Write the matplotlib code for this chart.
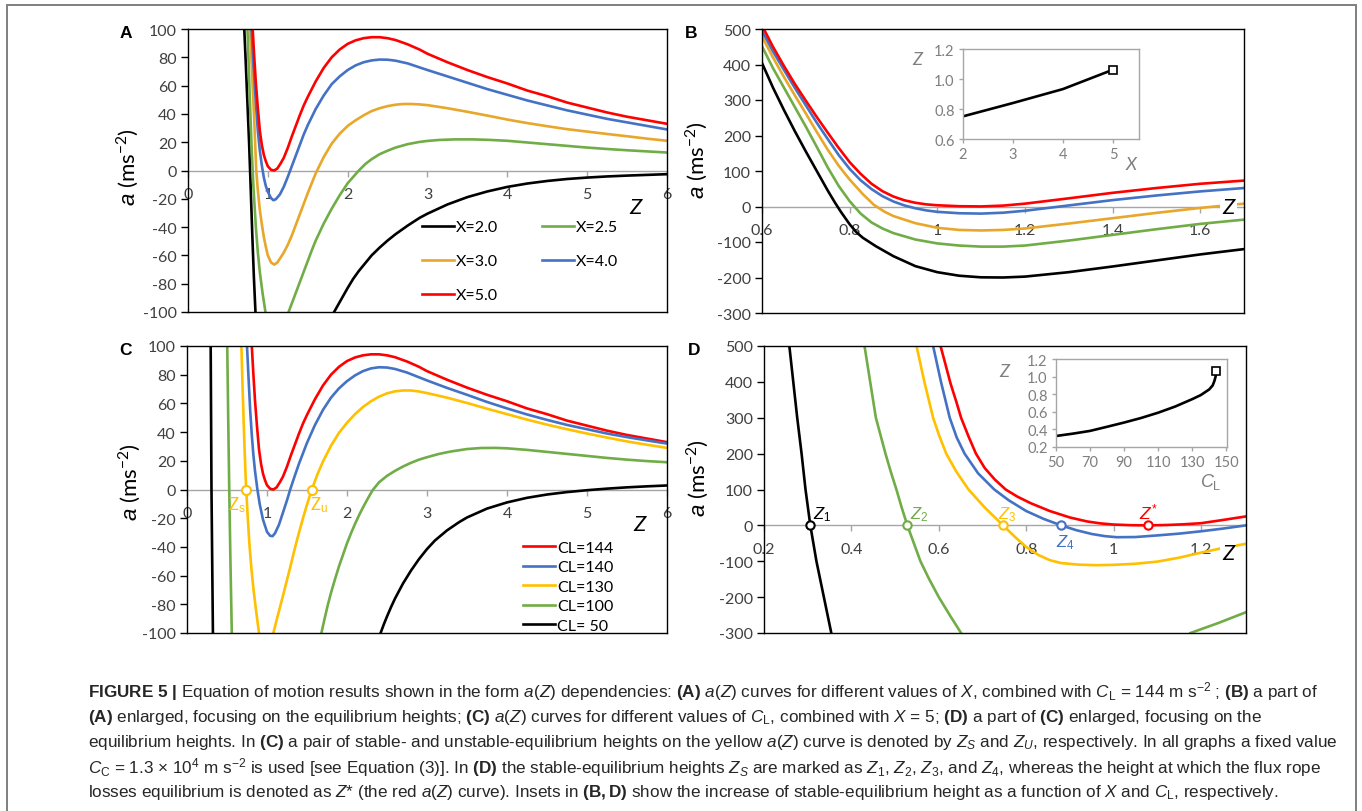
import numpy as np
import matplotlib
matplotlib.use("Agg")
import matplotlib.pyplot as plt
from matplotlib.patches import Rectangle

nan = np.nan

# ---------------- Panel A: a(Z) for several X, CL = 144 ----------------
A_x20_z = [0.705, 0.725, 0.745, 0.765, 0.785, 0.805, 0.825, 0.845, nan,
           1.83, 1.87, 1.93, 2.0, 2.07, 2.14, 2.22, 2.3, 2.4, 2.5, 2.6, 2.75, 2.9, 3.0,
           3.25, 3.5, 3.75, 4.0, 4.25, 4.5, 4.75, 5.0, 5.25, 5.5, 5.75, 6.0]
A_x20_a = [100, 74, 47, 20, -12, -45, -75, -100, nan,
           -100, -96, -90, -83, -76.5, -71, -65.5, -60, -54.5, -49.5, -45, -39, -33.5, -30.5,
           -24, -18.8, -14.8, -11.6, -9.2, -7.4, -6, -5, -4.2, -3.6, -3.1, -2.6]
A_x25_z = [0.745, 0.76, 0.78, 0.8, 0.82, 0.85, 0.875, 0.9, 0.935, 0.97, nan,
           1.26, 1.3, 1.35, 1.4, 1.45, 1.5, 1.55, 1.6, 1.7, 1.8, 1.9, 2.0, 2.07, 2.14, 2.22,
           2.3, 2.4, 2.5, 2.6, 2.75, 2.9, 3.0, 3.15, 3.35, 3.55, 3.75, 4.0, 4.25, 4.5, 4.75,
           5.0, 5.25, 5.5, 5.75, 6.0]
A_x25_a = [100, 75, 42, 12, -12, -40, -58, -72, -87, -100, nan,
           -100, -94, -86.5, -79, -71.5, -64, -56.5, -49.5, -37.5, -27, -17.5, -9, -4.5, 0, 4.5,
           8, 11.5, 14, 16.2, 18.6, 20.2, 20.9, 21.6, 22, 22, 21.7, 21, 19.8, 18.6, 17.4,
           16.2, 15.2, 14.3, 13.5, 12.7]
A_x30_z = [0.775, 0.79, 0.8, 0.815, 0.83, 0.845, 0.855, 0.875, 0.9, 0.925, 0.95, 0.975, 1.0,
           1.04, 1.08, 1.12, 1.16, 1.2, 1.25, 1.3, 1.35, 1.4, 1.5, 1.6, 1.7, 1.8, 1.9, 2.0,
           2.1, 2.2, 2.3, 2.4, 2.5, 2.6, 2.7, 2.8, 2.9, 3.0, 3.25, 3.5, 3.75, 4.0, 4.25, 4.5,
           4.75, 5.0, 5.25, 5.5, 5.75, 6.0]
A_x30_a = [100, 83, 72, 53, 35, 14, 0, -14, -28, -38, -47, -54, -60,
           -65, -66.5, -65, -61.5, -58, -52.5, -46, -38.5, -31, -16, -2, 9.5, 19, 26, 31.5,
           35.5, 39, 42, 44, 45.5, 46.5, 47, 47, 46.7, 46.2, 44, 41.5, 38.8, 36, 33.5, 31.3,
           29.2, 27.5, 25.8, 24.2, 22.5, 21]
A_x40_z = [0.795, 0.82, 0.85, 0.875, 0.9, 0.925, 0.95, 0.975, 1.0, 1.04, 1.07, 1.1, 1.15,
           1.2, 1.25, 1.3, 1.35, 1.4, 1.45, 1.5, 1.6, 1.7, 1.8, 1.9, 2.0, 2.1, 2.2, 2.3, 2.4,
           2.5, 2.6, 2.75, 3.0, 3.25, 3.5, 3.75, 4.0, 4.25, 4.5, 4.75, 5.0, 5.25, 5.5, 5.75, 6.0]
A_x40_a = [100, 75, 48, 28, 14, 3.5, -5, -11, -15, -19.5, -21, -20.3, -17,
           -11.5, -4.5, 3, 10.5, 18, 25.5, 32, 43.5, 53, 61, 66.5, 71, 74.3, 76.5, 77.8, 78.4,
           78.3, 77.6, 75.7, 71, 66.5, 62, 57.5, 53.5, 49.5, 46, 42.5, 39.5, 36.5, 34, 31.5, 29]
A_x50_z = [0.81, 0.83, 0.85, 0.875, 0.9, 0.925, 0.95, 0.975, 1.0, 1.04, 1.08, 1.12, 1.16, 1.2,
           1.25, 1.3, 1.35, 1.4, 1.45, 1.5, 1.6, 1.7, 1.8, 1.9, 2.0, 2.1, 2.2, 2.3, 2.4, 2.5,
           2.6, 2.75, 2.9, 3.0, 3.25, 3.5, 3.75, 4.0, 4.25, 4.5, 4.75, 5.0, 5.25, 5.5, 5.75, 6.0]
A_x50_a = [100, 80, 62, 44, 28, 18, 11, 6.5, 3, 0.5, 0, 1.5, 5, 9,
           16, 24, 31.5, 39, 46, 52, 63, 72.5, 80, 85.5, 89.5, 92, 93.5, 94.2, 94.2, 93.5,
           92.2, 89.2, 85.5, 82.5, 76.5, 71, 66, 61.5, 56.5, 52.5, 48, 44.5, 41, 38, 35.5, 33]
A_labels = ["X=2.0", "X=2.5", "X=3.0", "X=4.0", "X=5.0"]

# ---------------- Panel B: zoom of panel A around equilibrium ----------------
B_x20_z = [0.6, 0.625, 0.65, 0.675, 0.7, 0.725, 0.75, 0.765, 0.78, 0.8, 0.815, 0.83, 0.86,
           0.9, 0.95, 1.0, 1.05, 1.1, 1.15, 1.2, 1.3, 1.4, 1.5, 1.6, 1.7]
B_x20_a = [404, 335, 272, 212, 155, 100, 45, 14, -15, -50, -72, -88, -112,
           -140, -168, -185, -195, -199.5, -200, -197.5, -185, -169, -152, -135, -120]
B_x25_z = [0.6, 0.625, 0.65, 0.675, 0.7, 0.725, 0.75, 0.775, 0.8, 0.825, 0.85, 0.875, 0.9,
           0.95, 1.0, 1.05, 1.1, 1.15, 1.2, 1.3, 1.4, 1.5, 1.6, 1.7]
B_x25_a = [451, 390, 335, 280, 225, 168, 110, 58, 15, -20, -45, -62, -75,
           -93, -104, -110, -113, -113, -110, -96, -80, -64, -49, -37]
B_x30_z = [0.6, 0.625, 0.65, 0.675, 0.7, 0.725, 0.75, 0.775, 0.8, 0.83, 0.855, 0.88, 0.9,
           0.95, 1.0, 1.05, 1.1, 1.15, 1.2, 1.3, 1.4, 1.5, 1.6, 1.7]
B_x30_a = [479, 420, 365, 313, 262, 210, 160, 115, 76, 35, 5, -15, -27,
           -47, -60, -66, -67.5, -66, -62, -48, -33, -18, -4, 8]
B_x40_z = [0.6, 0.625, 0.65, 0.675, 0.7, 0.725, 0.75, 0.775, 0.8, 0.825, 0.85, 0.875, 0.9,
           0.925, 0.95, 0.975, 1.0, 1.05, 1.1, 1.15, 1.2, 1.3, 1.4, 1.5, 1.6, 1.7]
B_x40_a = [495, 437, 385, 334, 285, 236, 190, 145, 106, 74, 49, 29, 14,
           3, -5, -11, -15, -19, -20, -17.5, -12, 3, 18, 31, 42.5, 52]
B_x50_z = [0.6, 0.625, 0.65, 0.675, 0.7, 0.725, 0.75, 0.775, 0.8, 0.825, 0.85, 0.875, 0.9,
           0.925, 0.95, 0.975, 1.0, 1.05, 1.1, 1.15, 1.2, 1.3, 1.4, 1.5, 1.6, 1.7]
B_x50_a = [510, 450, 396, 345, 298, 252, 208, 165, 125, 92, 64, 43, 28,
           17.5, 10.5, 6, 3.5, 0.8, 0.2, 2.5, 8, 23, 38.5, 52, 64, 73]
inB_X = [2, 3, 4, 5]
inB_Z = [0.751, 0.84, 0.933, 1.062]

# ---------------- Panel C: a(Z) for several CL, X = 5 ----------------
C_cl140_z = [0.75, 0.77, 0.79, 0.81, 0.83, 0.85, 0.88, 0.91, 0.95, 1.0, 1.04, 1.07, 1.1, 1.15,
             1.2, 1.25, 1.29, 1.35, 1.4, 1.5, 1.6, 1.7, 1.8, 1.9, 2.0, 2.1, 2.2, 2.3, 2.4,
             2.5, 2.6, 2.75, 3.0, 3.25, 3.5, 3.75, 4.0, 4.25, 4.5, 4.75, 5.0, 5.25, 5.5, 5.75, 6.0]
C_cl140_a = [100, 77, 55, 38, 24, 13, 0, -10.5, -21, -29.5, -32.3, -32.5, -30.5, -24.5,
             -16, -7.5, 0, 10, 18, 32.5, 45, 55.5, 64, 70.5, 75.5, 79.5, 82.5, 84.4, 85.2,
             85, 84, 81.5, 76, 70.8, 66, 61, 56.5, 52.3, 48.5, 45, 42, 39, 36.5, 34.2, 32]
C_cl130_z = [0.68, 0.69, 0.70, 0.71, 0.72, 0.73, 0.74, 0.76, 0.78, 0.805, 0.83, 0.86, 0.9, nan,
             1.08, 1.12, 1.16, 1.2, 1.25, 1.3, 1.35, 1.4, 1.45, 1.5, 1.56, 1.63, 1.7, 1.8, 1.9,
             2.0, 2.1, 2.2, 2.3, 2.4, 2.5, 2.6, 2.7, 2.8, 2.9, 3.0, 3.25, 3.5, 3.75, 4.0, 4.25,
             4.5, 4.75, 5.0, 5.25, 5.5, 5.75, 6.0]
C_cl130_a = [100, 80, 62, 44, 28, 13, 0, -20, -38, -55, -69, -83, -100, nan,
             -100, -91, -82.5, -74, -63, -52, -40.5, -30, -20, -10.5, 0, 10.5, 19.5, 30.5, 39.5,
             46.5, 52.5, 57.5, 61.5, 64.7, 67, 68.4, 69, 69, 68.3, 67.2, 64, 60.3, 56.3, 52.5,
             48.7, 45.2, 42, 39, 36.2, 33.5, 31.2, 29]
C_cl100_z = [0.503, 0.515, 0.528, 0.543, 0.56, nan,
             1.68, 1.72, 1.76, 1.8, 1.85, 1.9, 1.95, 2.0, 2.05, 2.1, 2.15, 2.2, 2.26, 2.32, 2.4,
             2.5, 2.6, 2.7, 2.8, 2.9, 3.0, 3.15, 3.3, 3.5, 3.67, 3.85, 4.0, 4.25, 4.5, 4.75, 5.0,
             5.25, 5.5, 5.75, 6.0]
C_cl100_a = [100, 50, 0, -50, -100, nan,
             -100, -90, -80.5, -72, -62.5, -53.5, -45.5, -37.5, -30.5, -24, -18, -12.5, -6.3, -0.5, 5,
             9.5, 13, 16, 18.6, 20.8, 22.5, 24.8, 26.5, 28.2, 28.9, 29, 28.7, 27.6, 26.2, 24.8, 23.4,
             22, 20.8, 19.8, 19]
C_cl50_z = [0.296, 0.306, 0.324, nan,
            2.42, 2.46, 2.5, 2.55, 2.6, 2.7, 2.8, 2.9, 3.0, 3.1, 3.25, 3.4, 3.5, 3.75, 4.0, 4.25,
            4.5, 4.75, 5.0, 5.25, 5.5, 5.75, 6.0]
C_cl50_a = [100, 0, -100, nan,
            -100, -94, -88.5, -82, -76, -65.5, -56.5, -48.5, -41.5, -35.5, -28.5, -22.8, -19.5,
            -13.3, -9, -5.8, -3.5, -1.8, -0.5, 0.6, 1.5, 2.2, 2.8]
C_labels = ["CL=144", "CL=140", "CL=130", "CL=100", "CL= 50"]
C_Zs, C_Zu = 0.74, 1.56

# ---------------- Panel D: zoom of panel C around equilibrium ----------------
D_cl50_z = [0.258, 0.267, 0.276, 0.286, 0.295, 0.306, 0.320, 0.337, 0.354]
D_cl50_a = [500, 400, 300, 200, 100, 0, -100, -200, -300]
D_cl100_z = [0.43, 0.443, 0.456, 0.467, 0.478, 0.49, 0.503, 0.515, 0.528, 0.543, 0.558, 0.578,
             0.6, 0.625, 0.651, nan, 1.176, 1.24, 1.303]
D_cl100_a = [500, 400, 300, 250, 200, 150, 100, 50, 0, -50, -100, -150,
             -200, -250, -300, nan, -300, -272, -242]
D_cl130_z = [0.549, 0.567, 0.587, 0.601, 0.617, 0.64, 0.668, 0.705, 0.747, 0.775, 0.8, 0.827,
             0.854, 0.88, 0.92, 0.96, 1.0, 1.05, 1.1, 1.15, 1.2, 1.25, 1.3]
D_cl130_a = [500, 400, 300, 250, 200, 150, 100, 50, 0, -33, -60, -82,
             -97, -105, -109.5, -111, -110, -107, -101, -90, -76, -63, -52]
D_cl140_z = [0.587, 0.605, 0.625, 0.641, 0.659, 0.69, 0.727, 0.76, 0.8, 0.84, 0.88, 0.915,
             0.95, 0.98, 1.007, 1.05, 1.1, 1.15, 1.2, 1.25, 1.303]
D_cl140_a = [500, 400, 300, 245, 200, 145, 100, 70, 40, 18, 0, -13.5,
             -24, -30, -33, -32.5, -28, -23, -16.5, -9, 0]
D_cl144_z = [0.604, 0.615, 0.627, 0.64, 0.651, 0.668, 0.685, 0.705, 0.728, 0.753, 0.78, 0.81,
             0.854, 0.9, 0.939, 0.97, 1.0, 1.04, 1.079, 1.12, 1.16, 1.2, 1.25, 1.303]
D_cl144_a = [500, 450, 395, 345, 300, 248, 200, 160, 128, 100, 80, 62,
             40, 22, 11, 5.5, 2.3, 0.5, 0, 1, 3, 6, 15, 25]
D_eq_Z = [0.306, 0.528, 0.747, 0.88, 1.079]
inD_CL = [50, 60, 70, 80, 90, 100, 110, 120, 130, 135, 140, 142, 143, 143.7, 144]
inD_Z = [0.325, 0.352, 0.383, 0.43, 0.478, 0.53, 0.59, 0.66, 0.744, 0.79, 0.855, 0.9, 0.95, 1.0, 1.06]

# tick values / labels
A_yticks = [100, 80, 60, 40, 20, 0, -20, -40, -60, -80, -100]
A_xticks = [0, 1, 2, 3, 4, 5, 6]
B_yticks = [500, 400, 300, 200, 100, 0, -100, -200, -300]
B_xticks = [0.6, 0.8, 1.0, 1.2, 1.4, 1.6]
B_xlabels = ["0.6", "0.8", "1", "1.2", "1.4", "1.6"]
D_xticks = [0.2, 0.4, 0.6, 0.8, 1.0, 1.2]
D_xlabels = ["0.2", "0.4", "0.6", "0.8", "1", "1.2"]
inB_xticks = [2, 3, 4, 5]
inB_yticks = [0.6, 0.8, 1.0, 1.2]
inD_xticks = [50, 70, 90, 110, 130, 150]
inD_yticks = [0.2, 0.4, 0.6, 0.8, 1.0, 1.2]

# ---------------- style ----------------
plt.rcParams.update({
    "font.family": ["Lato", "DejaVu Sans"],
    "mathtext.fontset": "custom",
    "mathtext.rm": "Liberation Sans",
    "mathtext.it": "Liberation Sans:italic",
    "mathtext.bf": "Liberation Sans:bold",
})
RED, BLUE, GREEN, BLACK = "#ff0000", "#4472c4", "#70ad47", "#000000"
GOLD_A, GOLD_C = "#e8a72a", "#ffc000"
TXT = "#404040"
LW = 1.9

W, H = 1362, 812
fig = plt.figure(figsize=(W / 100, H / 100), dpi=100)


def px_axes(x0, y0, x1, y1):
    return fig.add_axes([x0 / W, 1 - y1 / H, (x1 - x0) / W, (y1 - y0) / H])


def main_axes(box, xlim, ylim, yticks, xticks, xlabels):
    ax = px_axes(*box)
    ax.set_xlim(xlim)
    ax.set_ylim(ylim)
    ax.set_yticks(yticks)
    ax.set_yticklabels([f"{v:g}" for v in yticks])
    ax.tick_params(axis="y", direction="out", length=5, width=1.0, colors="black",
                   labelcolor=TXT, labelsize=11.5, pad=3)
    ax.set_xticks([])
    for s in ax.spines.values():
        s.set_linewidth(1.0)
        s.set_color("black")
    zero_frac = (0 - ylim[0]) / (ylim[1] - ylim[0])
    sec = ax.secondary_xaxis(zero_frac)
    sec.set_alignment("bottom")
    sec.set_ticks(xticks, labels=xlabels)
    sec.spines["bottom"].set_color("#a6a6a6")
    sec.spines["bottom"].set_linewidth(1.0)
    sec.tick_params(axis="x", direction="out", length=4, width=1.0, color="#a6a6a6",
                    labelcolor=TXT, labelsize=11.5, pad=8)
    return ax


def inset_axes(box, xlim, ylim, xticks, yticks, ylabels):
    ax = px_axes(*box)
    ax.set_xlim(xlim)
    ax.set_ylim(ylim)
    ax.set_xticks(xticks)
    ax.set_xticklabels([f"{v:g}" for v in xticks])
    ax.set_yticks(yticks)
    ax.set_yticklabels(ylabels)
    ax.tick_params(direction="out", length=3, width=1.0, color="#a6a6a6",
                   labelcolor="#7f7f7f", labelsize=10.5, pad=3)
    for s in ax.spines.values():
        s.set_linewidth(1.0)
        s.set_color("#a6a6a6")
    return ax


def ylab(x, y):
    fig.text(x / W, 1 - y / H, r"$a$ (ms$^{\mathregular{-2}}$)", rotation=90,
             ha="center", va="center", fontsize=16, color="black")


def panel_letter(x, y, s):
    fig.text(x / W, 1 - y / H, s, ha="center", va="center", fontsize=12.5,
             fontweight="bold", family="Liberation Sans", color="black")


# ---------------- Panel A ----------------
axA = main_axes((188, 30, 667, 313), (0, 6), (-100, 100), A_yticks, A_xticks,
                [str(v) for v in A_xticks])
hA = []
for z, a, c, lab in zip([A_x20_z, A_x25_z, A_x30_z, A_x40_z, A_x50_z],
                        [A_x20_a, A_x25_a, A_x30_a, A_x40_a, A_x50_a],
                        [BLACK, GREEN, GOLD_A, BLUE, RED], A_labels):
    hA.append(axA.plot(z, a, color=c, lw=LW, label=lab)[0])
order = [0, 2, 4, 1, 3]
axA.legend([hA[i] for i in order], [A_labels[i] for i in order], ncol=2,
           loc="upper left", bbox_to_anchor=(2.93, -35), bbox_transform=axA.transData,
           frameon=False, fontsize=11.5, handlelength=2.0, handletextpad=0.15,
           columnspacing=2.7, labelspacing=1.25, borderpad=0, borderaxespad=0)
axA.text(5.6, -26, "Z", style="italic", fontsize=16, ha="center", va="center")
ylab(128, 167)
panel_letter(126, 33, "A")

# ---------------- Panel B ----------------
axB = main_axes((762, 30, 1244, 314), (0.6, 1.7), (-300, 500), B_yticks, B_xticks, B_xlabels)
for z, a, c in zip([B_x20_z, B_x25_z, B_x30_z, B_x40_z, B_x50_z],
                   [B_x20_a, B_x25_a, B_x30_a, B_x40_a, B_x50_a],
                   [BLACK, GREEN, GOLD_A, BLUE, RED]):
    axB.plot(z, a, color=c, lw=LW)
axB.text(1.665, -2, "Z", style="italic", fontsize=16, ha="center", va="center", zorder=5,
         bbox=dict(facecolor="white", edgecolor="none", pad=1.5))
ylab(697, 160)
panel_letter(691, 33, "B")

axBi = inset_axes((963, 50, 1139, 140), (2, 5.52), (0.6, 1.2), inB_xticks, inB_yticks,
                  ["0.6", "0.8", "1.0", "1.2"])
axBi.plot(inB_X, inB_Z, color="black", lw=LW)
axBi.plot(inB_X[-1], inB_Z[-1], "s", mfc="white", mec="black", ms=6, mew=1.2)
fig.text(917 / W, 1 - 60 / H, "Z", style="italic", fontsize=13, color="#7f7f7f",
         ha="center", va="center")
fig.text(1131 / W, 1 - 165 / H, "X", style="italic", fontsize=13, color="#7f7f7f",
         ha="center", va="center")

# ---------------- Panel C ----------------
axC = main_axes((187, 347, 667, 634), (0, 6), (-100, 100), A_yticks, A_xticks,
                [str(v) for v in A_xticks])
hC = []
for z, a, c, lab in zip([A_x50_z, C_cl140_z, C_cl130_z, C_cl100_z, C_cl50_z],
                        [A_x50_a, C_cl140_a, C_cl130_a, C_cl100_a, C_cl50_a],
                        [RED, BLUE, GOLD_C, GREEN, BLACK], C_labels):
    hC.append(axC.plot(z, a, color=c, lw=LW, label=lab)[0])
axC.legend(handles=hC, loc="upper left", bbox_to_anchor=(4.2, -35.5),
           bbox_transform=axC.transData, frameon=False, fontsize=11.5,
           handlelength=2.0, handletextpad=0.15, labelspacing=0.34,
           borderpad=0, borderaxespad=0)
axC.plot([C_Zs, C_Zu], [0, 0], "o", ls="none", mfc="white", mec=GOLD_C, ms=6.5, mew=1.5,
         zorder=4)
axC.text(C_Zs - 0.12, -10, r"Z$_\mathrm{s}$", color=GOLD_C, fontsize=12, ha="center", va="center")
axC.text(C_Zu + 0.09, -10, r"Z$_\mathrm{u}$", color=GOLD_C, fontsize=12, ha="center", va="center")
axC.text(5.65, -24, "Z", style="italic", fontsize=16, ha="center", va="center")
ylab(130, 482)
panel_letter(126, 351, "C")

# ---------------- Panel D ----------------
axD = main_axes((764, 347, 1246, 634), (0.2, 1.303), (-300, 500), B_yticks, D_xticks, D_xlabels)
D_colors = [BLACK, GREEN, GOLD_C, BLUE, RED]
for z, a, c in zip([D_cl50_z, D_cl100_z, D_cl130_z, D_cl140_z, D_cl144_z],
                   [D_cl50_a, D_cl100_a, D_cl130_a, D_cl140_a, D_cl144_a], D_colors):
    axD.plot(z, a, color=c, lw=LW)
for zq, c in zip(D_eq_Z, D_colors):
    axD.plot(zq, 0, "o", mfc="white", mec=c, ms=6, mew=1.5, zorder=4)
axD.text(D_eq_Z[0] + 0.005, 8, r"$Z_1$", color=BLACK, fontsize=12, ha="left", va="bottom")
axD.text(D_eq_Z[1] + 0.005, 8, r"$Z_2$", color=GREEN, fontsize=12, ha="left", va="bottom")
axD.text(D_eq_Z[2] - 0.012, 8, r"$Z_3$", color=GOLD_C, fontsize=12, ha="left", va="bottom")
axD.text(D_eq_Z[3] - 0.012, -18, r"$Z_4$", color=BLUE, fontsize=12, ha="left", va="top")
axD.text(D_eq_Z[4] - 0.02, 12, r"$Z^{*}$", color=RED, fontsize=12.5, ha="left", va="bottom")
axD.text(1.262, -76, "Z", style="italic", fontsize=16, ha="center", va="center", zorder=5,
         bbox=dict(facecolor="white", edgecolor="none", pad=1.5))
ylab(698, 478)
panel_letter(694, 351, "D")

axDi = inset_axes((1056, 360, 1227, 448), (50, 150.4), (0.2, 1.2), inD_xticks, inD_yticks,
                  ["0.2", "0.4", "0.6", "0.8", "1.0", "1.2"])
axDi.plot(inD_CL, inD_Z, color="black", lw=LW)
axDi.plot(inD_CL[-1], inD_Z[-1], "s", mfc="white", mec="black", ms=6, mew=1.2)
fig.text(1004 / W, 1 - 372 / H, "Z", style="italic", fontsize=13, color="#7f7f7f",
         ha="center", va="center")
fig.text(1211 / W, 1 - 482 / H, r"$C_\mathrm{L}$", fontsize=13, color="#7f7f7f",
         ha="center", va="center")

# ---------------- caption ----------------
caption = [
    r"$\mathbf{FIGURE\ 5\ |}$ Equation of motion results shown in the form $a$($Z$) dependencies: "
    r"$\mathbf{(A)}$ $a$($Z$) curves for different values of $X$, combined with $C_\mathrm{L}$ = 144 m s$^{-2}$ ; "
    r"$\mathbf{(B)}$ a part of",
    r"$\mathbf{(A)}$ enlarged, focusing on the equilibrium heights; $\mathbf{(C)}$ $a$($Z$) curves for "
    r"different values of $C_\mathrm{L}$, combined with $X$ = 5; $\mathbf{(D)}$ a part of $\mathbf{(C)}$ "
    r"enlarged, focusing on the",
    r"equilibrium heights. In $\mathbf{(C)}$ a pair of stable- and unstable-equilibrium heights on the "
    r"yellow $a$($Z$) curve is denoted by $Z_S$ and $Z_U$, respectively. In all graphs a fixed value",
    r"$C_\mathrm{C}$ = 1.3 $\times$ 10$^4$ m s$^{-2}$ is used [see Equation (3)]. In $\mathbf{(D)}$ the "
    r"stable-equilibrium heights $Z_S$ are marked as $Z_1$, $Z_2$, $Z_3$, and $Z_4$, whereas the height "
    r"at which the flux rope",
    r"losses equilibrium is denoted as $Z$* (the red $a$($Z$) curve). Insets in $\mathbf{(B,D)}$ show the "
    r"increase of stable-equilibrium height as a function of $X$ and $C_\mathrm{L}$, respectively.",
]
for i, line in enumerate(caption):
    fig.text(88 / W, 1 - (692 + 25.2 * i) / H, line, ha="left", va="center", fontsize=12.3,
             family="Liberation Sans", color="#262626")

# outer frame
fig.add_artist(Rectangle((7 / W, -0.02), (1356 - 7) / W, 1 - 6 / H + 0.02,
                         transform=fig.transFigure, fill=False, edgecolor="#7f7f7f", lw=1.4))

fig.savefig("out.png", dpi=100)
